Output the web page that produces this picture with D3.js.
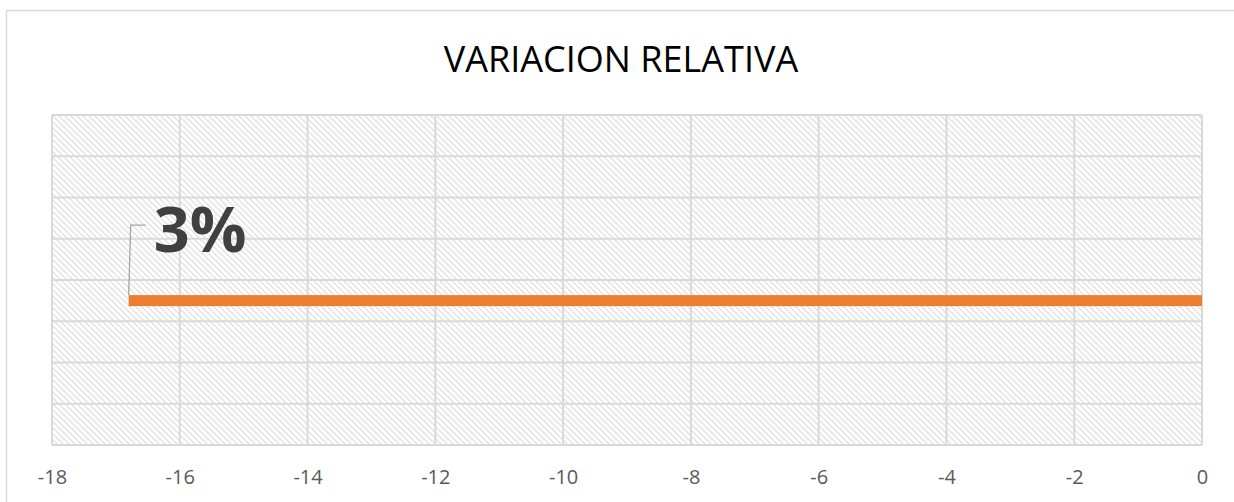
<!DOCTYPE html>
<html>
<head>
<meta charset="utf-8">
<script src="https://cdn.jsdelivr.net/npm/d3@7"></script>
<style>
  body { margin: 0; background: #fff; }
  svg { display: block; }
</style>
</head>
<body>
<div id="chart"></div>
<script>
// data
var title = "VARIACION RELATIVA";
var barStart = [-16.8];
var barEnd = [0];
var barRow = [3.5];
var barLabels = ["3%"];
var xTicks = [-18, -16, -14, -12, -10, -8, -6, -4, -2, 0];
var yGrid = [0, 1, 2, 3, 4, 5, 6, 7, 8];

var W = 1234, H = 502;
var margin = {top: 115, right: 32, bottom: 57, left: 52},
  width = W - margin.left - margin.right,
  height = H - margin.top - margin.bottom;

var svg = d3.select("#chart")
  .append("svg")
    .attr("width", W)
    .attr("height", H);

// outer chart border
svg.append("rect")
  .attr("x", 6.5).attr("y", 10.5)
  .attr("width", W).attr("height", H)
  .attr("fill", "none")
  .attr("stroke", "#d9d9d9")
  .attr("stroke-width", 1.5);

// hatch pattern for the plot area
var pat = svg.append("defs").append("pattern")
  .attr("id", "hatch")
  .attr("patternUnits", "userSpaceOnUse")
  .attr("width", 6).attr("height", 6);
pat.append("path")
  .attr("d", "M-1,-1 L7,7 M-1,5 L1,7 M5,-1 L7,1")
  .attr("stroke", "#dcdcdc")
  .attr("stroke-width", 1.2);

svg.append("text")
  .attr("x", W / 2 + 4)
  .attr("y", 72)
  .attr("text-anchor", "middle")
  .style("font-family", "'Open Sans', 'Liberation Sans', sans-serif")
  .style("font-size", "36px")
  .style("fill", "#000")
  .text(title);

var g = svg.append("g")
  .attr("transform", "translate(" + margin.left + "," + margin.top + ")");

var x = d3.scaleLinear().domain([-18, 0]).range([0, width]);
var y = d3.scaleLinear().domain([0, 8]).range([height, 0]);

g.append("rect")
  .attr("width", width).attr("height", height)
  .attr("fill", "url(#hatch)");

// gridlines
g.selectAll(".vgrid")
  .data(xTicks)
  .enter()
  .append("line")
    .attr("x1", function(d) { return x(d); })
    .attr("x2", function(d) { return x(d); })
    .attr("y1", 0).attr("y2", height)
    .style("stroke", "#d9d9d9")
    .style("stroke-width", 2);

g.selectAll(".hgrid")
  .data(yGrid)
  .enter()
  .append("line")
    .attr("x1", 0).attr("x2", width)
    .attr("y1", function(d) { return y(d); })
    .attr("y2", function(d) { return y(d); })
    .style("stroke", "#d9d9d9")
    .style("stroke-width", 2);

// x axis labels (plain hyphen like the original)
var xAxis = g.append("g")
  .attr("transform", "translate(0," + height + ")")
  .call(d3.axisBottom(x).tickValues(xTicks).tickSize(0).tickPadding(25)
    .tickFormat(function(d) { return String(d); }));
xAxis.select(".domain").remove();
xAxis.selectAll("text")
  .style("font-family", "'Open Sans', 'Liberation Sans', sans-serif")
  .style("font-size", "20px")
  .style("fill", "#595959");

// bar
var barH = 11;
g.selectAll(".bar")
  .data(barStart)
  .enter()
  .append("rect")
    .attr("x", function(d) { return x(d); })
    .attr("width", function(d, i) { return x(barEnd[i]) - x(d); })
    .attr("y", function(d, i) { return y(barRow[i]) - barH / 2; })
    .attr("height", barH)
    .style("fill", "#ed7d31");

// leader line + label
g.selectAll(".leader")
  .data(barStart)
  .enter()
  .append("path")
    .attr("d", function(d, i) {
      var x0 = x(d), y0 = y(barRow[i]) - barH / 2;
      return "M" + x0 + "," + y0 + " L" + (x0 + 2) + "," + (y0 - 70) + " L" + (x0 + 17) + "," + (y0 - 70);
    })
    .attr("fill", "none")
    .style("stroke", "#a6a6a6")
    .style("stroke-width", 1.3);

g.selectAll(".lbl")
  .data(barLabels)
  .enter()
  .append("text")
    .attr("x", function(d, i) { return x(barStart[i]) + 25; })
    .attr("y", function(d, i) { return y(barRow[i]) - 49; })
    .style("font-family", "'Open Sans', 'Liberation Sans', sans-serif")
    .style("font-weight", "bold")
    .style("font-size", "63px")
    .style("fill", "#404040")
    .text(function(d) { return d; });
</script>
</body>
</html>
